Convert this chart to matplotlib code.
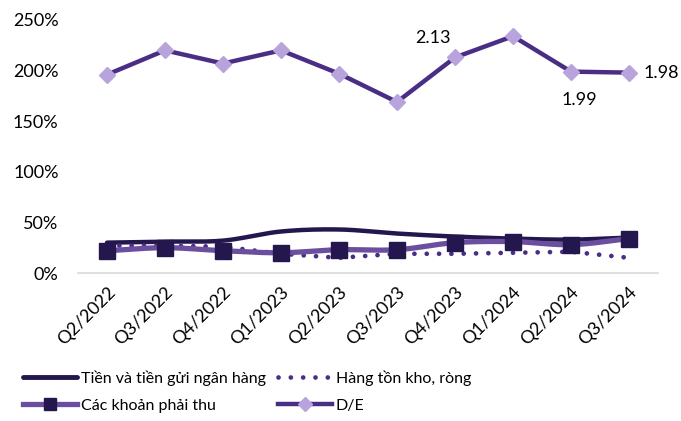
import numpy as np
import matplotlib
matplotlib.use('Agg')
import matplotlib.pyplot as plt

plt.rcParams['font.family'] = ['Lato', 'DejaVu Sans']

quarters = ['Q2/2022', 'Q3/2022', 'Q4/2022', 'Q1/2023', 'Q2/2023',
            'Q3/2023', 'Q4/2023', 'Q1/2024', 'Q2/2024', 'Q3/2024']
cash = [0.30, 0.31, 0.32, 0.41, 0.43, 0.39, 0.36, 0.34, 0.33, 0.35]
inventory = [0.27, 0.27, 0.26, 0.19, 0.15, 0.19, 0.19, 0.20, 0.21, 0.15]
receivables = [0.22, 0.25, 0.22, 0.20, 0.23, 0.23, 0.30, 0.31, 0.28, 0.34]
de_ratio = [1.96, 2.20, 2.07, 2.20, 1.97, 1.69, 2.13, 2.34, 1.99, 1.98]

c_dark = '#24174d'
c_mid = '#6b4f9e'
c_de = '#4a2d85'
c_diamond = '#b8a3dc'


def smooth(y, n=20):
    # catmull-rom curve through the points, like excel's smoothed line
    y = np.asarray(y, dtype=float)
    x = np.arange(len(y), dtype=float)
    p = np.concatenate([[2 * y[0] - y[1]], y, [2 * y[-1] - y[-2]]])
    xs, ys = [], []
    for i in range(len(y) - 1):
        t = np.linspace(0, 1, n, endpoint=False)
        p0, p1, p2, p3 = p[i], p[i + 1], p[i + 2], p[i + 3]
        seg = 0.5 * ((2 * p1) + (-p0 + p2) * t + (2 * p0 - 5 * p1 + 4 * p2 - p3) * t ** 2
                     + (-p0 + 3 * p1 - 3 * p2 + p3) * t ** 3)
        xs.append(x[i] + t)
        ys.append(seg)
    xs.append([x[-1]])
    ys.append([y[-1]])
    return np.concatenate(xs), np.concatenate(ys)


fig = plt.figure(figsize=(6.81, 4.21), dpi=100)
ax = fig.add_axes([78 / 681, 1 - 273 / 421, 580 / 681, 253 / 421])
x = np.arange(len(quarters))

sx, sy = smooth(cash)
ax.plot(sx, sy, color=c_dark, lw=3.2, solid_capstyle='round')
ax.plot(x, inventory, color=c_de, lw=3.4, linestyle=(0, (0.01, 2.6)),
        dash_capstyle='round')
rx, ry = smooth(receivables)
ax.plot(rx, ry, color=c_mid, lw=3.8, solid_capstyle='round')
ax.plot(x, receivables, linestyle='none', marker='s', ms=11, color=c_dark)
ax.plot(x, de_ratio, color=c_de, lw=3.2, marker='D', ms=8,
        mfc=c_diamond, mec=c_diamond, solid_joinstyle='miter')

ax.text(6 - 0.38, de_ratio[6] + 0.19, '2.13', fontsize=13, ha='center', va='center')
ax.text(8 + 0.15, de_ratio[8] - 0.28, '1.99', fontsize=13, ha='center', va='center')
ax.text(9 + 0.25, de_ratio[9], '1.98', fontsize=13, ha='left', va='center')

ax.set_xlim(-0.5, 9.5)
ax.set_ylim(0, 2.5)
ax.set_yticks(np.arange(0, 2.51, 0.5))
ax.set_yticklabels([f'{int(v * 100)}%' for v in np.arange(0, 2.51, 0.5)], fontsize=13)
ax.set_xticks(x)
ax.set_xticklabels(quarters, rotation=45, ha='right', rotation_mode='anchor', fontsize=13)
ax.tick_params(length=0, pad=8)
ax.tick_params(axis='y', pad=14)
for s in ['top', 'right', 'left']:
    ax.spines[s].set_visible(False)
ax.spines['bottom'].set_color('#d9d9d9')
ax.spines['bottom'].set_linewidth(1.2)
for ln in ax.lines:
    ln.set_clip_on(False)

h1 = plt.Line2D([], [], color=c_dark, lw=3.5, solid_capstyle='round')
h2 = plt.Line2D([], [], color=c_de, lw=3.4, linestyle=(0, (0.01, 2.6)), dash_capstyle='round')
h3 = plt.Line2D([], [], color=c_mid, lw=3.8, marker='s', ms=9, mfc=c_dark, mec=c_dark)
h4 = plt.Line2D([], [], color=c_de, lw=3.2, marker='D', ms=7, mfc=c_diamond, mec=c_diamond)
fig.legend([h1, h3, h2, h4],
           ['Tiền và tiền gửi ngân hàng', 'Các khoản phải thu', 'Hàng tồn kho, ròng', 'D/E'],
           ncol=2, loc='upper left', bbox_to_anchor=(0.034, 0.12), frameon=False,
           fontsize=11.5, handlelength=3.4, handletextpad=0.25, columnspacing=0.7,
           labelspacing=0.8, borderaxespad=0, borderpad=0)

fig.savefig('out.png', dpi=100)
